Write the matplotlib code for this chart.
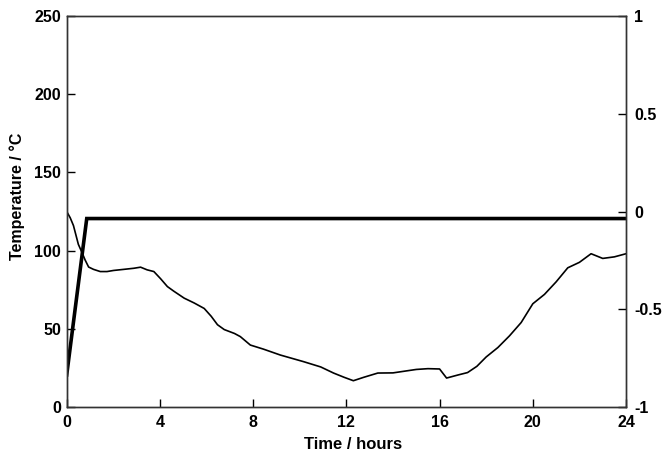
import matplotlib
matplotlib.use("Agg")
import matplotlib.pyplot as plt

plt.rcParams['font.family'] = ['Liberation Sans', 'DejaVu Sans']

# Setpoint (thick line)
set_t = [0, 0.86, 24]
set_temp = [20.5, 120.5, 120.5]

# Measured temperature (thin line)
meas_t = [0, 0.15, 0.29, 0.5, 0.65, 0.79, 0.94, 1.15, 1.44, 1.73, 2.01, 2.45, 2.88,
          3.17, 3.45, 3.74, 4.03, 4.32, 4.6, 5.04, 5.47, 5.9, 6.2, 6.47, 6.76,
          7.2, 7.45, 7.88, 8.44, 9.17, 10.16, 10.9, 11.45, 11.9, 12.3, 12.75,
          13.35, 14.0, 15.0, 15.5, 16.0, 16.3, 16.8, 17.2, 17.6, 18.0, 18.5,
          19.0, 19.5, 20.0, 20.5, 21.0, 21.5, 22.0, 22.5, 23.0, 23.5, 24.0]
meas_temp = [125, 121, 116, 104, 99, 94, 89.5, 88, 86.6, 86.6, 87.3, 88, 88.7,
             89.4, 87.7, 86.6, 82, 77, 74, 69.6, 66.5, 63, 58, 52.6, 49.5,
             47, 45, 39.6, 37, 33.2, 29, 25.6, 21.7, 19, 16.8, 19,
             21.7, 21.8, 24.0, 24.5, 24.3, 18.5, 20.5, 22, 26, 32, 38,
             45.5, 54, 66, 72, 80, 89, 92.5, 98, 95, 96, 98]

x_ticks = [0, 4, 8, 12, 16, 20, 24]
y_ticks = [0, 50, 100, 150, 200, 250]
y2_ticks = [-1, -0.5, 0, 0.5, 1]
y2_labels = ['-1', '-0.5', '0', '0.5', '1']

fig = plt.figure(figsize=(6.65, 4.58), dpi=100)
ax = fig.add_axes([0.1003, 0.1114, 0.8411, 0.8536])
ax.plot(meas_t, meas_temp, color='black', lw=1.2)
ax.plot(set_t, set_temp, color='black', lw=2.6, solid_joinstyle='miter')
ax.set_xlim(0, 24)
ax.set_ylim(0, 250)
ax.set_xticks(x_ticks)
ax.set_yticks(y_ticks)
ax.tick_params(direction='in', length=6, width=1, labelsize=11.5)
ax.tick_params(axis='x', pad=6)
ax.tick_params(axis='y', pad=4)
for lab in ax.get_xticklabels() + ax.get_yticklabels():
    lab.set_fontweight('bold')
ax.set_xlabel('Time / hours', fontsize=12, fontweight='bold')
ax.set_ylabel('Temperature / °C', fontsize=11.5, fontweight='bold')
ax.xaxis.set_label_coords(0.512, -0.078)
ax.yaxis.set_label_coords(-0.074, 0.54)
for s in ax.spines.values():
    s.set_linewidth(1)
    s.set_color('#333333')

ax2 = ax.twinx()
ax2.set_ylim(-1, 1)
ax2.set_yticks(y2_ticks)
ax2.set_yticklabels(y2_labels)
ax2.tick_params(direction='in', length=6, width=1, labelsize=11.5, pad=6)
for lab in ax2.get_yticklabels():
    lab.set_fontweight('bold')
for s in ax2.spines.values():
    s.set_linewidth(1)
    s.set_color('#333333')

fig.savefig('out.png', dpi=100)
